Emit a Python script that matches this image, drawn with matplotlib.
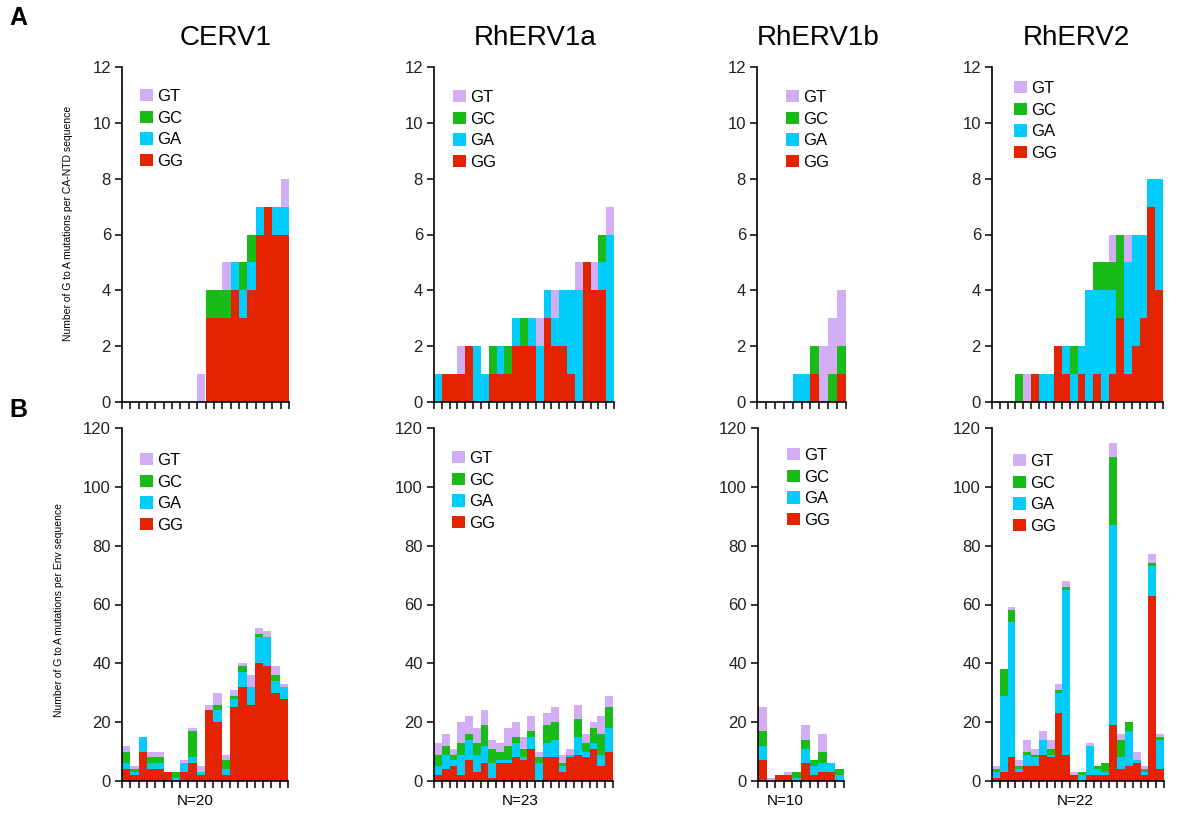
import numpy as np
import matplotlib
matplotlib.use("Agg")
import matplotlib.pyplot as plt
from matplotlib.patches import Patch

plt.rcParams['font.family'] = ['Liberation Sans', 'DejaVu Sans']

W, H = 1178, 823

names = ["CERV1", "RhERV1a", "RhERV1b", "RhERV2"]
n_seq = [20, 23, 10, 22]
mut_types = ["GT", "GC", "GA", "GG"]
colors = {"GT": "#d2aff5", "GC": "#19bb19", "GA": "#00cdfb", "GG": "#e42300"}

# A: mutations per CA-NTD sequence
cerv1_ca = {
    "GG": [0,0,0,0,0,0,0,0,0,0, 3,3,3,4,3,4,6,7,6,6],
    "GA": [0,0,0,0,0,0,0,0,0,0, 0,0,0,1,1,1,1,0,1,1],
    "GC": [0,0,0,0,0,0,0,0,0,0, 1,1,1,0,1,1,0,0,0,0],
    "GT": [0,0,0,0,0,0,0,0,0,1, 0,0,1,0,0,0,0,0,0,1],
}
rherv1a_ca = {
    "GG": [0,1,1,1,2,0,0,1,1,1,2,2,2,0,3,2,2,1,0,5,4,4,0],
    "GA": [1,0,0,0,0,2,1,0,1,0,1,0,1,2,1,1,2,3,4,0,0,1,6],
    "GC": [0,0,0,0,0,0,0,1,0,1,0,1,0,0,0,0,0,0,0,0,0,1,0],
    "GT": [0,0,0,1,0,0,0,0,0,0,0,0,0,1,0,1,0,0,1,0,1,0,1],
}
rherv1b_ca = {
    "GG": [0,0,0,0,0,0,1,0,0,1],
    "GA": [0,0,0,0,1,1,0,0,0,0],
    "GC": [0,0,0,0,0,0,1,0,1,1],
    "GT": [0,0,0,0,0,0,0,2,2,2],
}
rherv2_ca = {
    "GG": [0,0,0,0,0,1,0,0,2,1,0,1,0,1,0,1,3,1,2,3,7,4],
    "GA": [0,0,0,0,0,0,1,1,0,1,1,1,4,3,4,3,0,4,4,3,1,4],
    "GC": [0,0,0,1,0,0,0,0,0,0,1,0,0,1,1,1,3,0,0,0,0,0],
    "GT": [0,0,0,0,1,0,0,0,0,0,0,0,0,0,0,1,0,1,0,0,0,0],
}

# B: mutations per Env sequence
cerv1_env = {
    "GG": [4,2,10,4,4,3,0,3,6,2,24,20,2,25,32,26,40,39,30,28],
    "GA": [2,1,5,2,2,0,1,3,2,1,0,4,2,3,5,6,9,10,4,4],
    "GC": [4,1,0,2,2,0,2,0,9,0,0,2,3,1,2,0,1,0,2,0],
    "GT": [2,1,0,2,2,0,0,1,1,2,2,4,2,2,1,4,2,2,3,1],
}
rherv1a_env = {
    "GG": [2,4,5,2,7,3,6,1,6,6,8,7,11,0,8,8,3,8,9,8,11,5,10],
    "GA": [3,5,2,7,7,6,6,5,1,1,5,1,4,6,5,6,2,1,6,2,2,4,8],
    "GC": [4,3,2,4,2,4,7,5,3,5,2,3,2,2,6,6,1,0,6,3,5,7,7],
    "GT": [4,4,2,7,6,5,5,3,3,6,5,4,5,2,4,5,3,2,5,3,2,6,4],
}
rherv1b_env = {
    "GG": [7,0,2,2,0,6,2,3,3,0],
    "GA": [5,0,0,0,1,5,3,3,3,2],
    "GC": [5,0,0,0,2,3,2,4,0,2],
    "GT": [8,1,0,1,0,5,0,6,0,0],
}
rherv2_env = {
    "GG": [1,3,8,3,5,5,9,8,23,9,2,0,2,2,2,19,4,5,6,2,63,4],
    "GA": [2,26,46,1,4,3,5,1,7,56,0,2,10,2,1,68,4,12,1,1,10,10],
    "GC": [1,9,4,1,1,1,0,2,1,1,0,1,0,1,3,23,6,3,0,1,1,1],
    "GT": [1,0,1,2,4,2,3,3,2,2,1,0,1,0,0,5,2,0,3,1,3,1],
}

ca_data = [cerv1_ca, rherv1a_ca, rherv1b_ca, rherv2_ca]
env_data = [cerv1_env, rherv1a_env, rherv1b_env, rherv2_env]

# layout in pixels
top_x = [(122, 289), (434, 614), (757, 846), (992, 1163)]
bot_x = [(122, 288), (434, 613), (758, 844), (992, 1164)]
top_y = (67, 402)
bot_y = (428, 781)
leg_top = [(140, 89), (453, 90), (786, 90), (1014, 81)]
leg_bot = [(140, 453), (452, 451), (787, 448), (1013, 454)]
title_x = [226, 535, 818, 1076]
nlab_x = [195, 520, 785, 1075]

fig = plt.figure(figsize=(W/100, H/100), dpi=100)


def px_axes(xr, yr):
    return fig.add_axes([xr[0]/W, 1-yr[1]/H, (xr[1]-xr[0])/W, (yr[1]-yr[0])/H])


def draw_panel(ax, d, n, ymax, ystep, leg_pos):
    x = np.arange(n) + 0.5
    bottom = np.zeros(n)
    for m in ["GG", "GA", "GC", "GT"]:
        v = np.array(d[m], dtype=float)
        ax.bar(x, v, width=1.0, bottom=bottom, color=colors[m], edgecolor='none')
        bottom += v
    ax.set_xlim(0, n)
    ax.set_ylim(0, ymax)
    ax.set_xticks(np.arange(n+1))
    ax.set_xticklabels([])
    ax.set_yticks(np.arange(0, ymax+1, ystep))
    ax.tick_params(axis='y', direction='out', length=5, width=1.1, labelsize=12, pad=3,
                   labelcolor='#222222')
    ax.tick_params(axis='x', direction='out', length=5, width=1.1)
    for s in ['top', 'right']:
        ax.spines[s].set_visible(False)
    for s in ['left', 'bottom']:
        ax.spines[s].set_linewidth(1.2)
    handles = [Patch(facecolor=colors[m], edgecolor='none') for m in mut_types]
    ax.legend(handles, mut_types, loc='upper left',
              bbox_to_anchor=(leg_pos[0]/W, 1-leg_pos[1]/H), bbox_transform=fig.transFigure,
              frameon=False, fontsize=12, handlelength=0.75, handleheight=0.75,
              handletextpad=0.3, labelspacing=0.4, borderpad=0, borderaxespad=0)


for i in range(4):
    ax = px_axes(top_x[i], top_y)
    draw_panel(ax, ca_data[i], n_seq[i], 12, 2, leg_top[i])
    ax2 = px_axes(bot_x[i], bot_y)
    draw_panel(ax2, env_data[i], n_seq[i], 120, 20, leg_bot[i])
    fig.text(title_x[i]/W, 1-38/H, names[i], fontsize=20, ha='center', va='center')
    fig.text(nlab_x[i]/W, 1-801/H, "N=" + str(n_seq[i]), fontsize=11, ha='center', va='center')

fig.text(68/W, 1-223/H, "Number of G to A mutations per CA-NTD sequence",
         rotation=90, fontsize=7.5, ha='center', va='center')
fig.text(59/W, 1-610/H, "Number of G to A mutations per Env sequence",
         rotation=90, fontsize=7.5, ha='center', va='center')

fig.text(18/W, 1-18/H, "A", fontsize=18, fontweight='bold', ha='center', va='center')
fig.text(18/W, 1-410/H, "B", fontsize=18, fontweight='bold', ha='center', va='center')

fig.savefig("out.png", dpi=100)
